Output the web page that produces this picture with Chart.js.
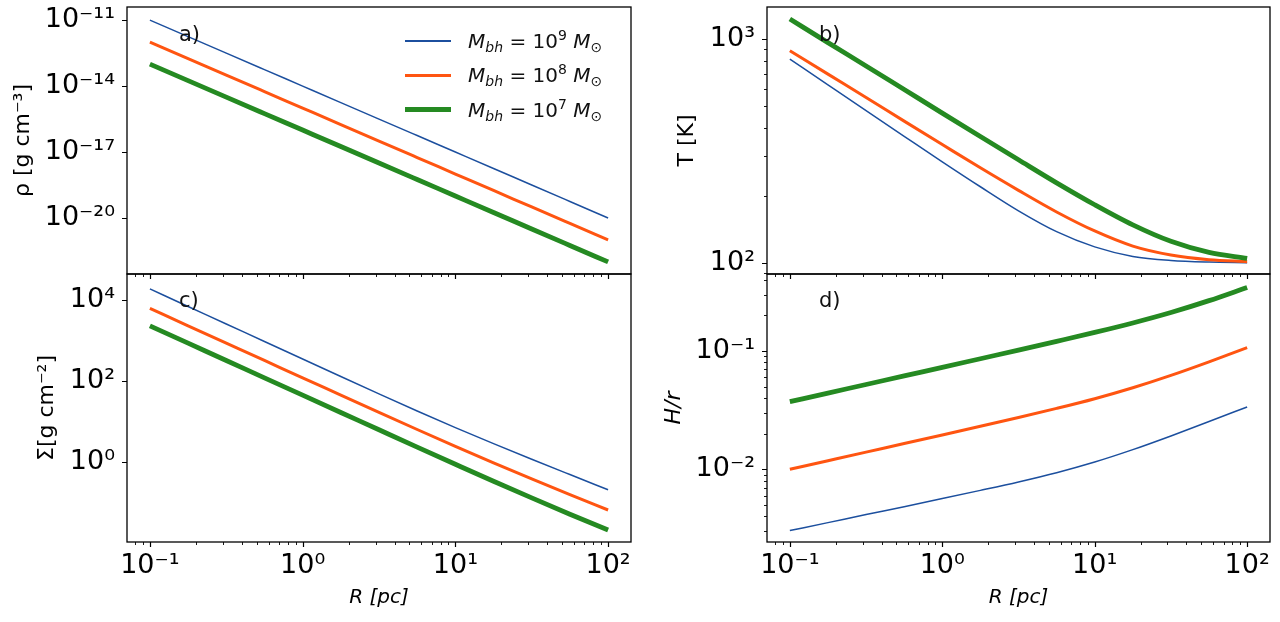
<!DOCTYPE html>
<html><head><meta charset="utf-8">
<script src="https://cdn.jsdelivr.net/npm/chart.js@4.4.1/dist/chart.umd.min.js"></script>
<style>
html,body{margin:0;padding:0;background:#fff;}
body{width:1280px;height:622px;position:relative;overflow:hidden;font-family:"DejaVu Sans",sans-serif;}
canvas{position:absolute;}
.plab{position:absolute;font-size:21px;line-height:21px;color:#111;}
#legend{position:absolute;left:405px;top:24px;}
.lrow{display:flex;align-items:center;height:34.3px;}
.ls{display:inline-block;width:46px;margin-right:17px;}
.lt{font-size:20px;line-height:20px;white-space:nowrap;color:#111;}
.lt sub{font-size:70%;vertical-align:-0.25em;line-height:0;}
.lt sup{font-size:70%;vertical-align:0.55em;line-height:0;}
</style></head><body>
<canvas id="ca" width="640" height="280" style="left:0;top:0"></canvas>
<canvas id="cc" width="640" height="362" style="left:0;top:260px"></canvas>
<canvas id="cb" width="640" height="280" style="left:640px;top:0"></canvas>
<canvas id="cd" width="640" height="362" style="left:640px;top:260px"></canvas>
<div class="plab" style="left:179px;top:24px">a)</div>
<div class="plab" style="left:819px;top:24px">b)</div>
<div class="plab" style="left:179px;top:290px">c)</div>
<div class="plab" style="left:819px;top:290px">d)</div>
<div id="legend"></div>
<script>
// ---------------- DATA ----------------
const R = [0.1, 0.1778, 0.3162, 0.5623, 1, 1.778, 3.162, 5.623, 10, 17.78, 31.62, 56.23, 100];
const MASS_EXP = [9, 8, 7];
const SERIES_LABELS = ['M_bh = 10^9 M_⊙', 'M_bh = 10^8 M_⊙', 'M_bh = 10^7 M_⊙'];

const rho9 = [1e-11, 1.78e-12, 3.16e-13, 5.62e-14, 1e-14, 1.78e-15, 3.16e-16, 5.62e-17, 1e-17, 1.78e-18, 3.16e-19, 5.62e-20, 1e-20];
const rho8 = [1e-12, 1.78e-13, 3.16e-14, 5.62e-15, 1e-15, 1.78e-16, 3.16e-17, 5.62e-18, 1e-18, 1.78e-19, 3.16e-20, 5.62e-21, 1e-21];
const rho7 = [1e-13, 1.78e-14, 3.16e-15, 5.62e-16, 1e-16, 1.78e-17, 3.16e-18, 5.62e-19, 1e-19, 1.78e-20, 3.16e-21, 5.62e-22, 1e-22];

const T9 = [813, 624, 479, 368, 283, 219, 171, 138, 118, 107, 102.6, 100.9, 100.3];
const T8 = [887, 697, 548, 430, 338, 266, 211, 169, 139, 119, 108.6, 103.5, 101.4];
const T7 = [1228, 964, 758, 595, 467, 367, 289, 228, 182, 148, 125, 111.5, 104.8];

const Sig9 = [18700, 6910, 2555, 943, 349, 129, 48.3, 18.3, 7.11, 2.86, 1.18, 0.494, 0.208];
const Sig8 = [6170, 2307, 862, 322, 120, 45.1, 16.9, 6.38, 2.44, 0.955, 0.384, 0.158, 0.066];
const Sig7 = [2300, 860, 322, 120, 44.9, 16.8, 6.28, 2.35, 0.886, 0.337, 0.131, 0.052, 0.0213];

const Hr9 = [0.00303, 0.00354, 0.00414, 0.00483, 0.00565, 0.00663, 0.00782, 0.00936, 0.01152, 0.01466, 0.01914, 0.02531, 0.03366];
const Hr8 = [0.01, 0.01182, 0.01397, 0.0165, 0.01951, 0.0231, 0.0274, 0.0327, 0.0395, 0.0489, 0.0622, 0.081, 0.1069];
const Hr7 = [0.0373, 0.0441, 0.0521, 0.0616, 0.0727, 0.086, 0.1017, 0.1206, 0.1435, 0.1726, 0.2115, 0.2665, 0.3446];

// tick values
const X_MAJOR = [0.1, 1, 10, 100];
const X_MINOR = [0.08, 0.09, 0.2, 0.3, 0.4, 0.5, 0.6, 0.7, 0.8, 0.9, 2, 3, 4, 5, 6, 7, 8, 9, 20, 30, 40, 50, 60, 70, 80, 90];
const A_MAJOR = [1e-20, 1e-17, 1e-14, 1e-11];
const C_MAJOR = [1, 100, 10000];
const B_MAJOR = [100, 1000];
const B_MINOR = [90, 200, 300, 400, 500, 600, 700, 800, 900];
const D_MAJOR = [0.01, 0.1];
const D_MINOR = [0.003, 0.004, 0.005, 0.006, 0.007, 0.008, 0.009, 0.02, 0.03, 0.04, 0.05, 0.06, 0.07, 0.08, 0.09, 0.2, 0.3, 0.4];

// axis ranges
const X_RANGE = [0.0708, 141.25];
const A_RANGE = [2.82e-23, 3.98e-11];
const C_RANGE = [0.01072, 43650];
const B_RANGE = [89.3, 1390];
const D_RANGE = [0.002427, 0.4477];

// ---------------- STYLE ----------------
const COLORS = ['#1c4f9e', '#ff5511', '#258a22'];
const WIDTHS = [1.5, 3, 4.8];
const ORDER = [3, 2, 1];
const FONT = '"DejaVu Sans", sans-serif';

const SUP = {'-':'⁻','0':'⁰','1':'¹','2':'²','3':'³','4':'⁴','5':'⁵','6':'⁶','7':'⁷','8':'⁸','9':'⁹'};
function pow10Label(v) {
  const e = Math.round(Math.log10(v));
  return '10' + String(e).split('').map(c => SUP[c]).join('');
}

// legend (HTML, from series labels)
document.getElementById('legend').innerHTML = MASS_EXP.map((e, i) =>
  `<div class="lrow" title="${SERIES_LABELS[i]}"><span class="ls" style="height:${WIDTHS[i]}px;background:${COLORS[i]}"></span>` +
  `<span class="lt"><i>M</i><sub><i>bh</i></sub> = 10<sup>${e}</sup> <i>M</i><sub>⊙</sub></span></div>`).join('');

const frameTicks = {
  id: 'frameTicks',
  afterDraw(chart, args, o) {
    const {ctx, chartArea: a, scales} = chart;
    ctx.save();
    ctx.strokeStyle = '#000';
    const drawX = (vals, len, w) => {
      ctx.lineWidth = w; ctx.beginPath();
      vals.forEach(v => { const p = Math.round(scales.x.getPixelForValue(v)) + 0.5;
        ctx.moveTo(p, a.bottom); ctx.lineTo(p, a.bottom + len); });
      ctx.stroke();
    };
    const drawY = (vals, len, w) => {
      ctx.lineWidth = w; ctx.beginPath();
      vals.forEach(v => { const p = Math.round(scales.y.getPixelForValue(v)) + 0.5;
        ctx.moveTo(a.left, p); ctx.lineTo(a.left - len, p); });
      ctx.stroke();
    };
    drawX(X_MAJOR, 5, 1.2); drawX(X_MINOR, 3, 0.9);
    drawY(o.yMajor || [], 5, 1.2); drawY(o.yMinor || [], 3, 0.9);
    ctx.lineWidth = 1.3;
    ctx.strokeRect(a.left, a.top, a.right - a.left, a.bottom - a.top);
    ctx.restore();
  }
};

function makeChart(id, c) {
  return new Chart(document.getElementById(id), {
    type: 'line',
    data: {
      datasets: c.series.map((ys, i) => ({
        label: SERIES_LABELS[i],
        data: R.map((r, k) => ({x: r, y: ys[k]})),
        borderColor: COLORS[i], backgroundColor: COLORS[i], borderWidth: WIDTHS[i],
        pointRadius: 0, fill: false, cubicInterpolationMode: 'monotone', order: ORDER[i]
      }))
    },
    options: {
      responsive: false, animation: false, events: [],
      layout: {padding: c.pad, autoPadding: false},
      plugins: {legend: {display: false}, tooltip: {enabled: false},
        frameTicks: {yMajor: c.yMajor, yMinor: c.yMinor}},
      scales: {
        x: {
          type: 'logarithmic', min: X_RANGE[0], max: X_RANGE[1], bounds: 'data',
          grid: {display: false, drawTicks: false}, border: {display: false},
          afterBuildTicks: s => { s.ticks = X_MAJOR.map(v => ({value: v})); },
          afterFit: s => { s.height = c.xh; s.paddingLeft = 0; s.paddingRight = 0; s.paddingTop = 0; s.paddingBottom = 0; },
          ticks: {display: c.xlab, autoSkip: false, maxRotation: 0, minRotation: 0, padding: 8,
            color: '#000', font: {family: FONT, size: 27}, callback: v => pow10Label(v)},
          title: {display: c.xlab, text: 'R [pc]', color: '#000',
            font: {family: FONT, size: 20, style: 'italic'}, padding: {top: 0, bottom: 12}}
        },
        y: {
          type: 'logarithmic', min: c.yRange[0], max: c.yRange[1], bounds: 'data',
          grid: {display: false, drawTicks: false}, border: {display: false},
          afterBuildTicks: s => { s.ticks = c.yMajor.map(v => ({value: v})); },
          afterFit: s => { s.width = 127; s.paddingLeft = 0; s.paddingRight = 0; s.paddingTop = 0; s.paddingBottom = 0; },
          ticks: {autoSkip: false, padding: 12, color: '#000',
            font: {family: FONT, size: 27}, callback: v => pow10Label(v)},
          title: {display: true, text: c.ytitle, color: '#000',
            font: {family: FONT, size: 22, style: c.yitalic ? 'italic' : 'normal'},
            padding: {top: c.ytpad, bottom: 0}}
        }
      }
    },
    plugins: [frameTicks]
  });
}

makeChart('ca', {series: [rho9, rho8, rho7], yRange: A_RANGE, yMajor: A_MAJOR, yMinor: [],
  ytitle: 'ρ [g cm⁻³]', ytpad: 10, xlab: false, xh: 6, pad: {top: 7, right: 9, left: 0, bottom: 0}});
makeChart('cc', {series: [Sig9, Sig8, Sig7], yRange: C_RANGE, yMajor: C_MAJOR, yMinor: [],
  ytitle: 'Σ[g cm⁻²]', ytpad: 34, xlab: true, xh: 80, pad: {top: 14, right: 9, left: 0, bottom: 0}});
makeChart('cb', {series: [T9, T8, T7], yRange: B_RANGE, yMajor: B_MAJOR, yMinor: B_MINOR,
  ytitle: 'T [K]', ytpad: 34, xlab: false, xh: 6, pad: {top: 7, right: 10, left: 0, bottom: 0}});
makeChart('cd', {series: [Hr9, Hr8, Hr7], yRange: D_RANGE, yMajor: D_MAJOR, yMinor: D_MINOR,
  ytitle: 'H/r', yitalic: true, ytpad: 21, xlab: true, xh: 80, pad: {top: 14, right: 10, left: 0, bottom: 0}});
</script>
</body></html>
